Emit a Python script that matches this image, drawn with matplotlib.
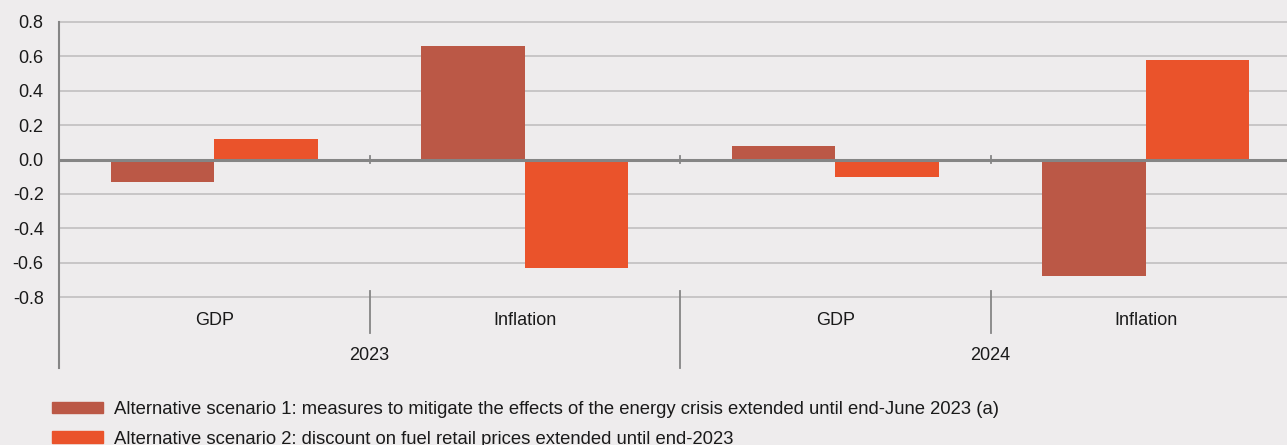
import matplotlib
matplotlib.use("Agg")
import matplotlib.pyplot as plt
from matplotlib.patches import Patch
from matplotlib.transforms import blended_transform_factory

plt.rcParams["font.family"] = ["Liberation Sans", "DejaVu Sans"]

# data
years = ["2023", "2024"]
variables = ["GDP", "Inflation"]
categories = ["GDP", "Inflation", "GDP", "Inflation"]
scenario1 = [-0.13, 0.66, 0.08, -0.68]
scenario2 = [0.12, -0.63, -0.10, 0.58]
labels = [
    "Alternative scenario 1: measures to mitigate the effects of the energy crisis extended until end-June 2023 (a)",
    "Alternative scenario 2: discount on fuel retail prices extended until end-2023",
]
yticks = [-0.8, -0.6, -0.4, -0.2, 0.0, 0.2, 0.4, 0.6, 0.8]

C1 = "#bb5846"
C2 = "#ea532b"
BG = "#eeeced"
GRID = "#c4c2c3"
AXIS = "#858585"
TXT = "#1a1a1a"

W, H = 1287, 445
fig = plt.figure(figsize=(W / 100, H / 100), dpi=100, facecolor=BG)
ax = fig.add_axes([59 / W, 1 - 297 / H, (1287 - 59) / W, 275 / H])
ax.set_facecolor(BG)

x = list(range(len(categories)))
bw = 1 / 3
ax.bar([i - bw / 2 for i in x], scenario1, width=bw, color=C1, zorder=3)
ax.bar([i + bw / 2 for i in x], scenario2, width=bw, color=C2, zorder=3)

ax.set_xlim(-0.5, 3.5 - 14 / 310.5)
ax.set_ylim(-0.8, 0.8)
ax.set_yticks(yticks)
ax.set_yticklabels([f"{v:.1f}" for v in yticks], fontsize=13, color=TXT)
ax.tick_params(axis="y", length=0, pad=11)
ax.set_xticks([])
for s in ax.spines.values():
    s.set_visible(False)
for v in yticks:
    if v != 0:
        ax.axhline(v, color=GRID, lw=1.3, zorder=1, clip_on=False)
ax.axhline(0, color=AXIS, lw=2.2, zorder=4)

tr = blended_transform_factory(ax.transData, ax.transAxes)
# left axis line down through the category labels
ax.plot([-0.5, -0.5], [1, -0.258], transform=tr, color=AXIS, lw=1.5, clip_on=False, zorder=5)
# small ticks on the zero line between categories
for b in [0.5, 1.5, 2.5]:
    ax.plot([b, b], [-0.02, 0.02], color=AXIS, lw=1.3, zorder=5)
# separators below the plot
for b in [0.5, 2.5]:
    ax.plot([b, b], [0.022, -0.131], transform=tr, color=AXIS, lw=1.3, clip_on=False)
ax.plot([1.5, 1.5], [0.022, -0.258], transform=tr, color=AXIS, lw=1.3, clip_on=False)

for i, c in zip(x, categories):
    ax.text(i, -0.087, c, transform=tr, ha="center", va="center", fontsize=13, color=TXT)
for j, y in enumerate(years):
    ax.text(2 * j + 0.5, -0.2145, y, transform=tr, ha="center", va="center", fontsize=13, color=TXT)

fig.legend(
    handles=[Patch(color=C1, label=labels[0]), Patch(color=C2, label=labels[1])],
    loc="upper left", bbox_to_anchor=(52 / W, 1 - 401 / H),
    frameon=False, fontsize=13.3, handlelength=2.75, handleheight=0.55,
    handletextpad=0.62, labelspacing=0.68, borderaxespad=0, borderpad=0,
    labelcolor=TXT,
)

fig.savefig("out.png", dpi=100, facecolor=BG)
